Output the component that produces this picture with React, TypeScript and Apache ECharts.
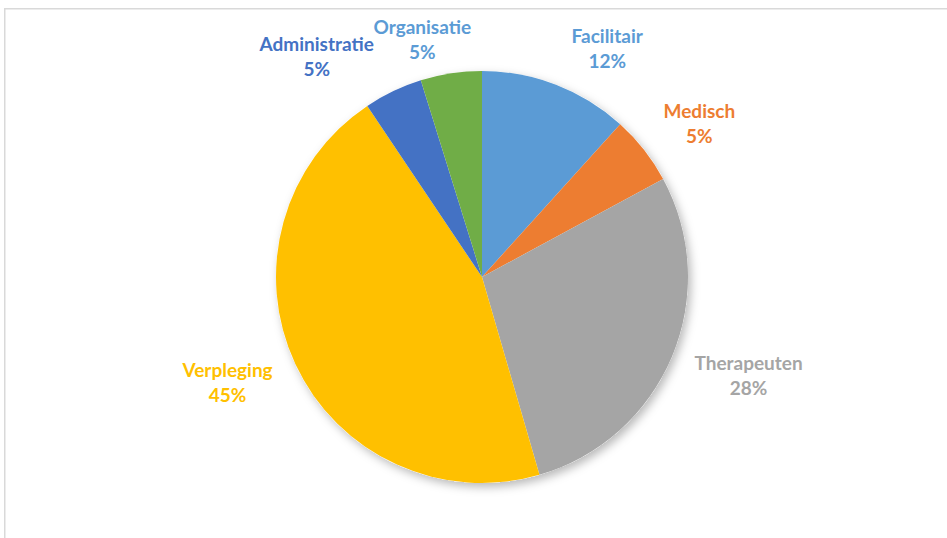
import React, { useEffect, useRef } from "react";
import * as echarts from "echarts";

const categories = ["Facilitair", "Medisch", "Therapeuten", "Verpleging", "Administratie", "Organisatie"];
const values = [11.7, 5.4, 28.4, 45.1, 4.6, 4.8];
const sliceColors = ["#5B9BD5", "#ED7D31", "#A5A5A5", "#FFC000", "#4472C4", "#70AD47"];
const labelColors = ["#5B9BD5", "#ED7D31", "#A5A5A5", "#FFC000", "#4472C4", "#5B9BD5"];

// label nudges (layout only)
const labelNudge: [number, number][] = [
  [35, 5],
  [20, 1],
  [35, 1],
  [-27, -1],
  [-57, 5],
  [-22, 10],
];

export default function App() {
  const ref = useRef<HTMLDivElement>(null);
  useEffect(() => {
    if (!ref.current) return;
    const chart = echarts.init(ref.current, undefined, { renderer: "svg" });
    const center = [482, 277];
    const radius = 206;
    chart.setOption({
      animation: false,
      backgroundColor: "#ffffff",
      graphic: [
        {
          type: "rect",
          shape: { x: 4.75, y: 8.75, width: 1000, height: 600 },
          style: { fill: "none", stroke: "#d9d9d9", lineWidth: 1.5 },
          silent: true,
          z: 0,
        },
      ],
      series: [
        {
          type: "pie",
          silent: true,
          center,
          radius,
          z: 1,
          label: { show: false },
          labelLine: { show: false },
          itemStyle: {
            color: "#ffffff",
            shadowBlur: 10,
            shadowOffsetX: 3,
            shadowOffsetY: 4,
            shadowColor: "rgba(0,0,0,0.28)",
          },
          data: [{ value: 1, name: "" }],
        },
        {
          type: "pie",
          center,
          radius,
          z: 2,
          startAngle: 90,
          clockwise: true,
          avoidLabelOverlap: false,
          itemStyle: { borderWidth: 0 },
          label: {
            show: true,
            position: "outside",
            fontFamily: "Lato",
            fontWeight: "bold",
            fontSize: 19,
            lineHeight: 25,
            distanceToLabelLine: 0,
            formatter: (p: any) => `${p.name}\n${Math.round(p.percent)}%`,
          },
          labelLine: { show: false, length: 45, length2: 0 },
          labelLayout: (p: any) => ({
            align: "center",
            verticalAlign: "middle",
            dx: labelNudge[p.dataIndex][0],
            dy: labelNudge[p.dataIndex][1],
          }),
          data: categories.map((name, i) => ({
            name,
            value: values[i],
            itemStyle: { color: sliceColors[i] },
            label: { color: labelColors[i] },
          })),
        },
      ],
    });
    return () => chart.dispose();
  }, []);
  return (
    <div
      ref={ref}
      style={{ position: "absolute", left: 0, top: 0, width: 947, height: 538 }}
    />
  );
}
